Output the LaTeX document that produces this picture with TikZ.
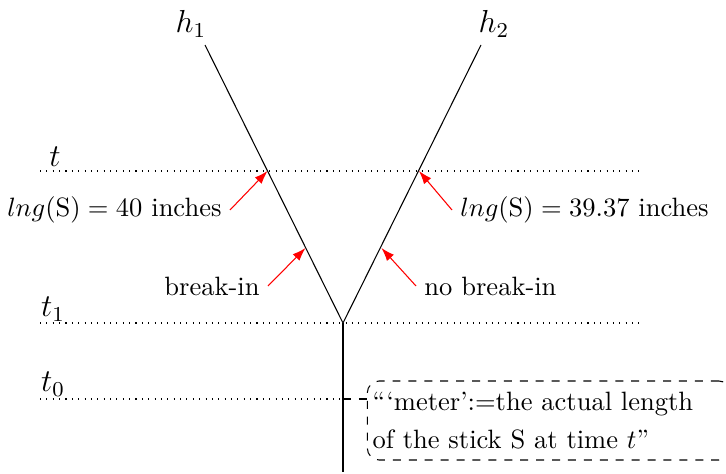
\documentclass[tikz,border=0pt]{standalone}
\usetikzlibrary{arrows.meta}
\begin{document}
\begin{tikzpicture}[x=0.377pt,y=-0.377pt,
  timeline/.style={dotted},
  stickline/.style={black},
  callout/.style={red,-{Latex[length=5pt,width=3.5pt]}},
  lbl/.style={inner sep=3pt},
  biglbl/.style={font=\large},
  notebox/.style={draw,dashed,rounded corners=4.5pt,align=left,text width=133pt,inner xsep=2pt,minimum height=29.8pt}]
\useasboundingbox (0,0) rectangle (726,474);
% key points
\coordinate (v) at (343,323);
\coordinate (h1e) at (205,45);
\coordinate (h2e) at (481,45);
\coordinate (bot) at (343,472);
\coordinate (p1) at (267.5,171);
\coordinate (p2) at (419,171);
\coordinate (q1) at (305.5,248);
\coordinate (q2) at (381.5,248);
% time lines
\coordinate (ts) at (40,171); \coordinate (te) at (640,171);
\coordinate (t1s) at (40,323); \coordinate (t1e) at (640,323);
\coordinate (t0s) at (40,399); \coordinate (t0v) at (343,399);
\draw[timeline] (ts) -- (te);
\draw[timeline] (t1s) -- (t1e);
\draw[timeline] (t0s) -- (t0v);
\node[biglbl] (lt) at (55,157) {$t$};
\node[biglbl] (lt1) at (53,309) {$t_1$};
\node[biglbl] (lt0) at (53,384) {$t_0$};
% histories
\draw[stickline] (h1e) -- (v) -- (h2e);
\draw[stickline] (v) -- (bot);
\node[biglbl] (h1) at (191,24) {$h_1$};
\node[biglbl] (h2) at (494,24) {$h_2$};
% labels
\node[lbl,anchor=east] (l40) at (230,210) {$lng(\mathrm{S})=40$ inches};
\node[lbl,anchor=west] (l39) at (452,210) {$lng(\mathrm{S})=39.37$ inches};
\node[lbl,anchor=east] (lbi) at (268,286) {break-in};
\node[lbl,anchor=west] (lnbi) at (416,286) {no break-in};
\draw[callout] (l40.east) -- (p1);
\draw[callout] (l39.west) -- (p2);
\draw[callout] (lbi.east) -- (q1);
\draw[callout] (lnbi.west) -- (q2);
% note
\node[notebox] (note) at (549,420.5) {``‘meter’:=the actual length\\[2.3pt]of the stick S at time $t$''};
\draw[dashed] (t0v) -- (note.west |- t0v);
\end{tikzpicture}
\end{document}
